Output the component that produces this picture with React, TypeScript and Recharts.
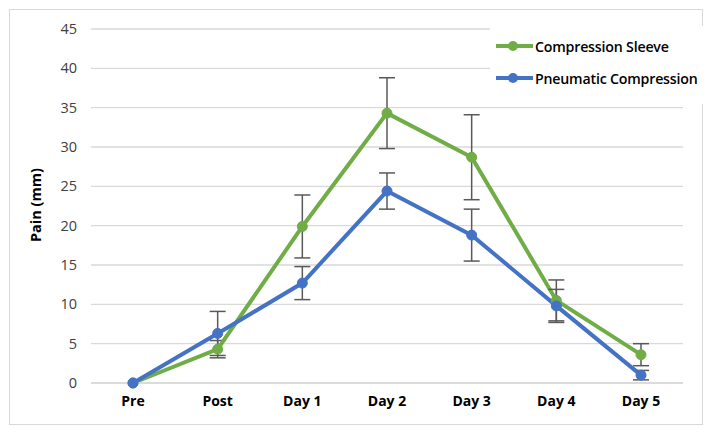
import React from "react";
import {
  LineChart,
  Line,
  XAxis,
  YAxis,
  CartesianGrid,
  ErrorBar,
} from "recharts";

const categories = ["Pre", "Post", "Day 1", "Day 2", "Day 3", "Day 4", "Day 5"];
const sleeve = [0, 4.3, 19.9, 34.3, 28.7, 10.5, 3.6];
const sleeveErr = [null, 1.1, 4.0, 4.5, 5.4, 2.6, 1.4];
const pneumatic = [0, 6.3, 12.7, 24.4, 18.8, 9.8, 1.0];
const pneumaticErr = [null, 2.8, 2.1, 2.3, 3.3, 2.1, 0.6];
const yTicks = [0, 5, 10, 15, 20, 25, 30, 35, 40, 45];

const seriesNames = ["Compression Sleeve", "Pneumatic Compression"];
const GREEN = "#70AD47";
const BLUE = "#4472C4";
const FONT = "'Open Sans', 'Noto Sans', sans-serif";

const data = categories.map((cat, i) => ({
  cat,
  sleeve: sleeve[i],
  sleeveErr: sleeveErr[i],
  pneumatic: pneumatic[i],
  pneumaticErr: pneumaticErr[i],
}));

// legend sits over the top-right gridlines with a white box, like the Excel original
function LegendBox() {
  const items = [
    { name: seriesNames[0], color: GREEN },
    { name: seriesNames[1], color: BLUE },
  ];
  return (
    <div
      style={{
        position: "absolute",
        left: 490,
        top: 26,
        width: 210,
        padding: "4px 0 10px 5px",
        background: "#fff",
      }}
    >
      {items.map((it) => (
        <div
          key={it.name}
          style={{ display: "flex", alignItems: "center", height: 32 }}
        >
          <svg width={39} height={12} style={{ flex: "none" }}>
            <line x1={1} y1={6} x2={38} y2={6} stroke={it.color} strokeWidth={4} />
            <circle cx={18} cy={6} r={5} fill={it.color} />
          </svg>
          <span
            style={{
              fontFamily: FONT,
              fontWeight: 600,
              fontSize: 14.2,
              color: "#000",
              marginLeft: 1,
              letterSpacing: -0.2,
              whiteSpace: "nowrap",
            }}
          >
            {it.name}
          </span>
        </div>
      ))}
    </div>
  );
}

export default function App() {
  return (
    <div
      style={{
        position: "absolute",
        left: 0,
        top: 0,
        width: 713,
        height: 435,
        background: "#fff",
      }}
    >
      <div
        style={{
          position: "absolute",
          left: 9,
          top: 9,
          width: 692,
          height: 414,
          border: "1px solid #d9d9d9",
        }}
      />
      <LineChart
        width={713}
        height={435}
        data={data}
        margin={{ top: 29, right: 30, bottom: 12, left: 31 }}
      >
        <CartesianGrid vertical={false} stroke="#d9d9d9" strokeWidth={1.3} />
        <XAxis
          dataKey="cat"
          padding={{ left: 42, right: 42 }}
          height={40}
          tickSize={0}
          tickMargin={13}
          axisLine={{ stroke: "#d9d9d9", strokeWidth: 1.3 }}
          tick={{ fill: "#000", fontSize: 14, fontWeight: 700, fontFamily: FONT }}
        />
        <YAxis
          domain={[0, 45]}
          ticks={yTicks}
          width={60}
          tickSize={0}
          tickMargin={14}
          axisLine={false}
          tick={{ fill: "#404040", fontSize: 14.5, fontFamily: FONT }}
          label={{
            value: "Pain (mm)",
            angle: -90,
            position: "insideLeft",
            dx: 0,
            dy: 36,
            style: { fill: "#000", fontSize: 14.5, fontWeight: 700, fontFamily: FONT },
          }}
        />
        <Line
          dataKey="sleeve"
          name={seriesNames[0]}
          stroke={GREEN}
          strokeWidth={4}
          dot={{ r: 5, fill: GREEN, stroke: GREEN, strokeWidth: 1 }}
          isAnimationActive={false}
        >
          <ErrorBar dataKey="sleeveErr" direction="y" width={8} stroke="#595959" strokeWidth={1.5} />
        </Line>
        <Line
          dataKey="pneumatic"
          name={seriesNames[1]}
          stroke={BLUE}
          strokeWidth={4}
          dot={{ r: 5, fill: BLUE, stroke: BLUE, strokeWidth: 1 }}
          isAnimationActive={false}
        >
          <ErrorBar dataKey="pneumaticErr" direction="y" width={8} stroke="#595959" strokeWidth={1.5} />
        </Line>
      </LineChart>
      <LegendBox />
    </div>
  );
}
